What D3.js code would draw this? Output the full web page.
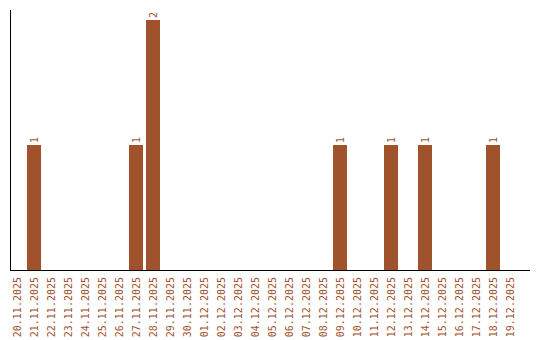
<!DOCTYPE html>
<html>
<head>
<meta charset="utf-8">
<script src="https://cdn.jsdelivr.net/npm/d3@7"></script>
<style>
  body { margin: 0; background: #fff; }
  text { font-family: "DejaVu Sans Mono", monospace; }
</style>
</head>
<body>
<svg width="540" height="340"></svg>
<script>
const dates = ["20.11.2025","21.11.2025","22.11.2025","23.11.2025","24.11.2025","25.11.2025",
  "26.11.2025","27.11.2025","28.11.2025","29.11.2025","30.11.2025","01.12.2025","02.12.2025",
  "03.12.2025","04.12.2025","05.12.2025","06.12.2025","07.12.2025","08.12.2025","09.12.2025",
  "10.12.2025","11.12.2025","12.12.2025","13.12.2025","14.12.2025","15.12.2025","16.12.2025",
  "17.12.2025","18.12.2025","19.12.2025"];
const counts = [0,1,0,0,0,0,0,1,2,0,0,0,0,0,0,0,0,0,0,1,0,0,1,0,1,0,0,0,1,0];

const color = '#a0522d';
const svg = d3.select('svg');
const x0 = 10, x1 = 530, yBase = 270, yTop = 20;

const scX = d3.scaleBand().domain(dates)
  .range([x0, x0 + 17 * 30 - 3]).paddingInner(3 / 17).paddingOuter(0);
const scY = d3.scaleLinear().domain([0, d3.max(counts)]).range([yBase, yTop]);

const data = dates.map((d, i) => ({ date: d, n: counts[i] }));
const bars = data.filter(d => d.n > 0);

svg.append('g').selectAll('rect').data(bars).enter()
  .append('rect')
  .attr('x', d => scX(d.date))
  .attr('y', d => scY(d.n))
  .attr('width', scX.bandwidth())
  .attr('height', d => scY(0) - scY(d.n))
  .attr('fill', color);

svg.append('g').selectAll('text').data(bars).enter()
  .append('text')
  .attr('transform', d => 'translate(' + (scX(d.date) + scX.bandwidth() / 2) + ',' + (scY(d.n) - 2) + ') rotate(-90)')
  .attr('dy', '0.35em')
  .attr('fill', color)
  .style('font-size', '10px')
  .text(d => d.n);

// axes: plain lines
svg.append('line').attr('x1', x0 + 0.5).attr('x2', x0 + 0.5)
  .attr('y1', 10).attr('y2', yBase).attr('stroke', '#000');
svg.append('line').attr('x1', x0).attr('x2', x1)
  .attr('y1', yBase + 0.5).attr('y2', yBase + 0.5).attr('stroke', '#000');

svg.append('g').selectAll('text').data(dates).enter()
  .append('text')
  .attr('transform', d => 'translate(' + (scX(d) + scX.bandwidth() / 2) + ',' + (yBase + 7) + ') rotate(-90)')
  .attr('text-anchor', 'end')
  .attr('dy', '0.35em')
  .attr('fill', color)
  .style('font-size', '10px')
  .text(d => d);
</script>
</body>
</html>
